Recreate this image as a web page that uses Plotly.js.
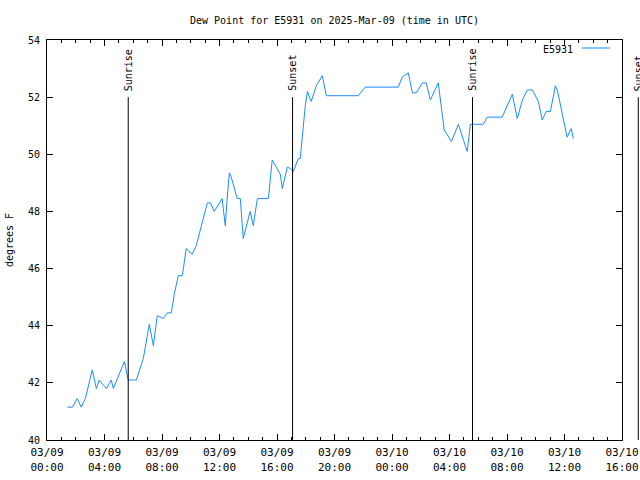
<!DOCTYPE html>
<html>
<head>
<meta charset="utf-8">
<script src="https://cdn.plot.ly/plotly-3.0.1.min.js"></script>
<style>html,body{margin:0;padding:0;background:#fff;}#chart{width:640px;height:480px;}</style>
</head>
<body>
<div id="chart"></div>
<script>
var seriesName = "E5931";
var times = [
"2025-03-09 01:25","2025-03-09 01:46","2025-03-09 02:06","2025-03-09 02:23","2025-03-09 02:40",
"2025-03-09 03:09","2025-03-09 03:26","2025-03-09 03:38","2025-03-09 04:08","2025-03-09 04:28",
"2025-03-09 04:37","2025-03-09 05:23","2025-03-09 05:39","2025-03-09 06:13","2025-03-09 06:42",
"2025-03-09 07:07","2025-03-09 07:24","2025-03-09 07:40","2025-03-09 08:05","2025-03-09 08:22",
"2025-03-09 08:39","2025-03-09 08:51","2025-03-09 09:08","2025-03-09 09:25","2025-03-09 09:41",
"2025-03-09 10:06","2025-03-09 10:23","2025-03-09 11:09","2025-03-09 11:22","2025-03-09 11:38",
"2025-03-09 12:11","2025-03-09 12:24","2025-03-09 12:32","2025-03-09 12:41","2025-03-09 12:49",
"2025-03-09 13:14","2025-03-09 13:27","2025-03-09 13:39","2025-03-09 14:08","2025-03-09 14:21",
"2025-03-09 14:38","2025-03-09 15:24","2025-03-09 15:40","2025-03-09 16:14","2025-03-09 16:22",
"2025-03-09 16:43","2025-03-09 16:56","2025-03-09 17:08","2025-03-09 17:29","2025-03-09 17:37",
"2025-03-09 17:58","2025-03-09 18:07","2025-03-09 18:23","2025-03-09 18:44","2025-03-09 19:09",
"2025-03-09 19:26","2025-03-09 21:39","2025-03-09 22:09","2025-03-10 00:26","2025-03-10 00:43",
"2025-03-10 01:08","2025-03-10 01:25","2025-03-10 01:41","2025-03-10 02:07","2025-03-10 02:23",
"2025-03-10 02:40","2025-03-10 03:13","2025-03-10 03:38","2025-03-10 04:08","2025-03-10 04:37",
"2025-03-10 05:14","2025-03-10 05:27","2025-03-10 06:21","2025-03-10 06:38","2025-03-10 07:40",
"2025-03-10 08:22","2025-03-10 08:43","2025-03-10 09:04","2025-03-10 09:25","2025-03-10 09:46",
"2025-03-10 10:11","2025-03-10 10:27","2025-03-10 10:44","2025-03-10 11:01","2025-03-10 11:22",
"2025-03-10 11:30","2025-03-10 12:11","2025-03-10 12:28","2025-03-10 12:37"
];
var dewPoint = [
41.15,41.15,41.45,41.15,41.45,
42.45,41.8,42.1,41.8,42.1,
41.8,42.75,42.1,42.1,42.85,
44.05,43.3,44.35,44.25,44.45,
44.45,45.1,45.75,45.75,46.7,
46.5,46.8,48.3,48.3,48.0,
48.45,47.5,48.45,49.35,49.2,
48.45,48.45,47.05,48.0,47.5,
48.45,48.45,49.8,49.3,48.8,
49.55,49.5,49.4,49.85,49.85,
51.7,52.2,51.85,52.4,52.75,
52.05,52.05,52.35,52.35,52.7,
52.85,52.15,52.15,52.5,52.5,
51.9,52.5,50.85,50.45,51.05,
50.1,51.05,51.05,51.3,51.3,
52.1,51.25,51.9,52.25,52.25,
51.85,51.2,51.5,51.5,52.4,
52.25,50.6,50.9,50.55
];
var sunEventNames = ["Sunrise","Sunset","Sunrise","Sunset"];
var sunEventTimes = ["2025-03-09 05:39","2025-03-09 17:05","2025-03-10 05:36","2025-03-10 17:08"];
var sunLineTop = 52;
var xStart = "2025-03-09 00:00", xEnd = "2025-03-10 16:00";
var yMin = 40, yMax = 54;
var tickVals = ["2025-03-09 00:00","2025-03-09 04:00","2025-03-09 08:00","2025-03-09 12:00","2025-03-09 16:00","2025-03-09 20:00","2025-03-10 00:00","2025-03-10 04:00","2025-03-10 08:00","2025-03-10 12:00","2025-03-10 16:00"];
var tickText = ["03/09<br>00:00","03/09<br>04:00","03/09<br>08:00","03/09<br>12:00","03/09<br>16:00","03/09<br>20:00","03/10<br>00:00","03/10<br>04:00","03/10<br>08:00","03/10<br>12:00","03/10<br>16:00"];

function ms(s){ return Date.parse(s.replace(" ","T")+":00Z"); }
var t0 = ms(xStart), t1 = ms(xEnd);
function xfrac(s){ return (ms(s)-t0)/(t1-t0); }
function yfrac(v){ return (v-yMin)/(yMax-yMin); }

var font = {family:"DejaVu Sans Mono, Liberation Mono, monospace", size:10, color:"#000"};
var tickFontX = {family:"DejaVu Sans Mono, Liberation Mono, monospace", size:11, color:"#000"};
var lineColor = "#1a8cff";

var shapes = [], annotations = [];
sunEventTimes.forEach(function(t,i){
  var fx = xfrac(t);
  shapes.push({type:"line", xref:"paper", yref:"paper", x0:fx, x1:fx, y0:0, y1:yfrac(sunLineTop), line:{color:"#000", width:1}});
  annotations.push({xref:"paper", yref:"paper", x:fx, y:yfrac(sunLineTop), yshift:4, xanchor:"center", yanchor:"bottom", text:sunEventNames[i], textangle:-90, showarrow:false, font:font});
});
// legend (text then line sample)
annotations.push({xref:"paper", yref:"paper", x:0.918, y:1, yshift:-2, xanchor:"right", yanchor:"top", text:seriesName, showarrow:false, font:font});
shapes.push({type:"line", xref:"paper", yref:"paper", x0:0.930, x1:0.979, y0:0.98, y1:0.98, line:{color:lineColor, width:1}});

var trace = {x:times, y:dewPoint, type:"scatter", mode:"lines", name:seriesName, line:{color:lineColor, width:1}, hoverinfo:"skip"};

var layout = {
  width:640, height:480,
  margin:{l:47, r:18, t:40, b:40, pad:0},
  paper_bgcolor:"#fff", plot_bgcolor:"#fff",
  showlegend:false,
  font:font,
  title:{text:"Dew Point for E5931 on 2025-Mar-09 (time in UTC)", font:font, x:0.5, xref:"paper", xanchor:"center", y:0.958, yanchor:"middle"},
  xaxis:{type:"date", range:[xStart,xEnd], tickmode:"array", tickvals:tickVals, ticktext:tickText,
    ticks:"inside", ticklen:6, tickcolor:"#000", showline:true, linecolor:"#000", linewidth:1, mirror:"ticks",
    showgrid:false, zeroline:false, tickfont:tickFontX, ticklabelstandoff:2,
    minor:{dtick:3600000, tick0:xStart, ticks:"inside", ticklen:3, tickcolor:"#000", showgrid:false}},
  yaxis:{range:[yMin,yMax], dtick:2, tick0:40, ticks:"inside", ticklen:6, tickcolor:"#000", showline:true, linecolor:"#000", linewidth:1, mirror:"ticks",
    showgrid:false, zeroline:false, tickfont:font, ticklabelstandoff:4,
    title:{text:"degrees F", font:font, standoff:12}},
  shapes:shapes, annotations:annotations
};
Plotly.newPlot("chart", [trace], layout, {staticPlot:true, displayModeBar:false});
</script>
</body>
</html>
